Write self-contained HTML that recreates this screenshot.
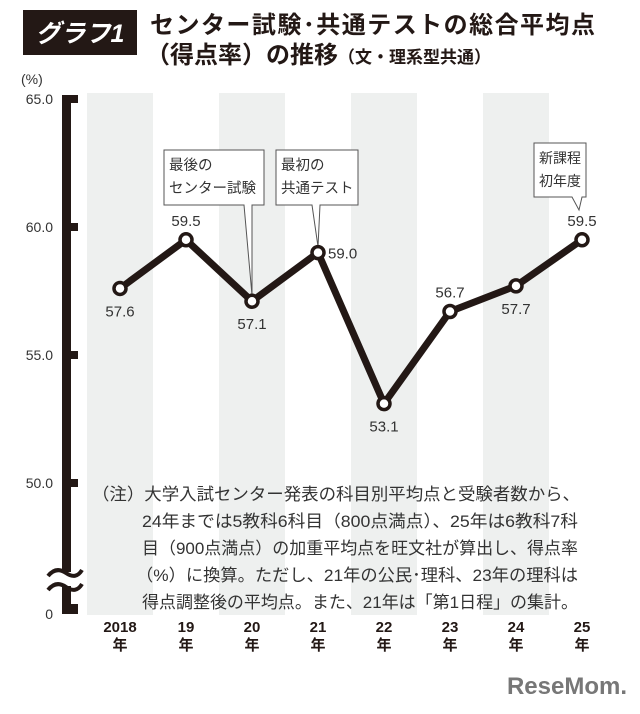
<!DOCTYPE html>
<html><head><meta charset="utf-8"><style>
body{margin:0;background:#fff;}
svg text{font-family:"Liberation Sans","Noto Sans CJK JP",sans-serif;}
</style></head><body>
<svg width="640" height="709" viewBox="0 0 640 709">
<rect x="23" y="10" width="114" height="45" fill="#231815"/>
<text x="80" y="42" font-size="25" font-weight="bold" fill="#fff" text-anchor="middle" font-style="italic">グラフ1</text>
<text x="150" y="33" font-size="24" font-weight="bold" fill="#231815" textLength="445">センター試験･共通テストの総合平均点</text>
<text x="146" y="63" font-size="24" font-weight="bold" fill="#231815">（得点率）の推移<tspan font-size="17">（文・理系型共通）</tspan></text>
<text x="21" y="84" font-size="14" fill="#333">(%)</text>
<g id="stripes"></g>
<g id="axis"></g>
<g id="plot"></g>
<g font-size="16.8" fill="#333">
<text x="92" y="500" textLength="488" lengthAdjust="spacingAndGlyphs">（注）大学入試センター発表の科目別平均点と受験者数から、</text>
<text x="142" y="527" textLength="436" lengthAdjust="spacingAndGlyphs">24年までは5教科6科目（800点満点）、25年は6教科7科</text>
<text x="142" y="554" textLength="436" lengthAdjust="spacingAndGlyphs">目（900点満点）の加重平均点を旺文社が算出し、得点率</text>
<text x="136" y="581" textLength="442" lengthAdjust="spacingAndGlyphs">（%）に換算。ただし、21年の公民･理科、23年の理科は</text>
<text x="142" y="608" textLength="436" lengthAdjust="spacingAndGlyphs">得点調整後の平均点。また、21年は「第1日程」の集計。</text>
</g>
<text x="627" y="694" font-size="24" font-weight="bold" fill="#777" text-anchor="end">ReseMom.</text>
</svg>
<script>
const categories=["2018","19","20","21","22","23","24","25"];
const values=[57.6,59.5,57.1,59.0,53.1,56.7,57.7,59.5];
const yTicks=[65,60,55,50];
const yTickLabels=["65.0","60.0","55.0","50.0"];
const labelPos=["below","above","below","right","below","above","below","above"];
const NS="http://www.w3.org/2000/svg";
function xs(i){return 120+66*i;}
function ys(v){return 227-(v-60)*25.6;}
function mk(tag,attrs,parent,text){const e=document.createElementNS(NS,tag);for(const k in attrs)e.setAttribute(k,attrs[k]);if(text!==undefined)e.textContent=text;parent.appendChild(e);return e;}
const st=document.getElementById('stripes'),ax=document.getElementById('axis'),pl=document.getElementById('plot');
categories.forEach((c,i)=>{
 if(i%2===0){const r=mk('rect',{x:xs(i)-33,y:93,width:66,height:522,fill:'#eef0ef'},st);
 
 }
 const t=mk('text',{x:xs(i),y:632,'font-size':15,'font-weight':'bold','text-anchor':'middle',fill:'#231815'},ax);
 
 
 mk('tspan',{x:xs(i),dy:0},t,c);mk('tspan',{x:xs(i),dy:18},t,'年');
});
const bar=mk('rect',{x:62,y:95,width:9,height:519,fill:'#231815'},ax);


yTicks.forEach((v,i)=>{
 const tk=mk('rect',{x:62,y:ys(v)-4,width:16,height:8,fill:'#231815'},ax);
 
 
 const tl=mk('text',{x:53,y:ys(v)+5,'font-size':14,'text-anchor':'end',fill:'#333'},ax,yTickLabels[i]);
 
 
});
const ft=mk('rect',{x:62,y:604,width:16,height:10,fill:'#231815'},ax);


const zl=mk('text',{x:53,y:619,'font-size':14,'text-anchor':'end',fill:'#333'},ax,'0');


const gap=mk('rect',{x:55,y:572,width:24,height:14,fill:'#fff'},ax);


['M48,576 Q56,566 66,573 T82,570','M48,590 Q56,580 66,587 T82,584'].forEach(d=>{
 const p=mk('path',{d:d,stroke:'#231815','stroke-width':4,fill:'none'},ax);
 
 
});
const line=mk('polyline',{points:values.map((v,i)=>xs(i)+','+ys(v)).join(' '),fill:'none',stroke:'#231815','stroke-width':7,'stroke-linejoin':'miter'},pl);


function callout(x,y,w,h,lines,tx,ty,bx1,bx2,name,fs){
 const g=mk('g',{},pl);
 
 
 mk('path',{d:`M${x},${y} H${x+w} V${y+h} H${bx2} L${tx},${ty} L${bx1},${y+h} H${x} Z`,fill:'#fff',stroke:'#555','stroke-width':1},g);
 lines.forEach((l,k)=>mk('text',{x:x+5,y:y+20+k*23,'font-size':fs,fill:'#333'},g,l));
}
callout(164,150,100,55,['最後の','センター試験'],xs(2),ys(values[2])-6,244,252,'callout-last-center',14.5);
callout(276,150,82,55,['最初の','共通テスト'],xs(3),ys(values[3])-6,312,320,'callout-first-common',14.5);
callout(534,143,52,54,['新課程','初年度'],xs(7)-3,210,572,582,'callout-new-curriculum',14);
values.forEach((v,i)=>{
 const c=mk('circle',{cx:xs(i),cy:ys(v),r:6,fill:'#fff',stroke:'#231815','stroke-width':3.5},pl);
 
 
 let lx=xs(i),ly=ys(v),a='middle';
 if(labelPos[i]==='above')ly-=14;else if(labelPos[i]==='below')ly+=28;else{lx+=10;ly+=6;a='start';}
 const t=mk('text',{x:lx,y:ly,'font-size':15,'text-anchor':a,fill:'#333'},pl,v.toFixed(1));
 
 
});
</script>
</body></html>
